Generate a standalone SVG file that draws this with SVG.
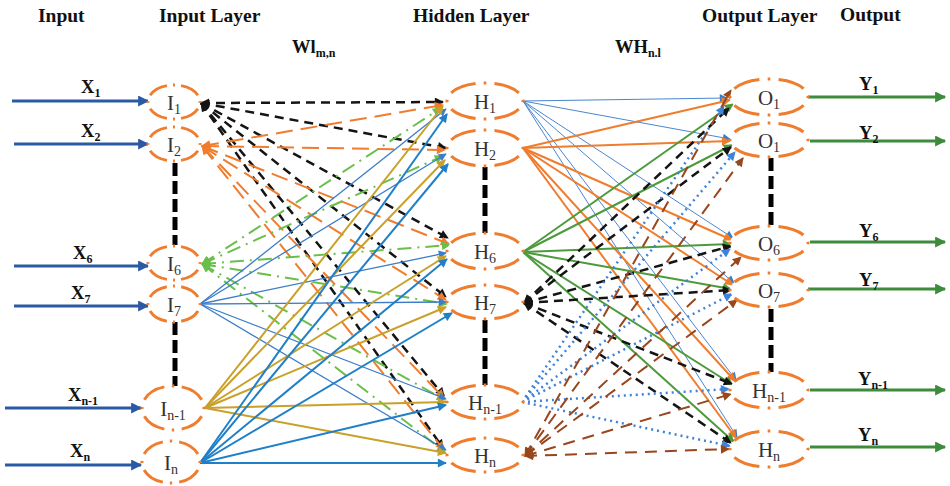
<svg xmlns="http://www.w3.org/2000/svg" width="950" height="486" viewBox="0 0 950 486">
<defs>
<style>
.hdr{font-family:"Liberation Serif","Times New Roman",serif;font-weight:bold;font-size:19.5px;fill:#111}
.lbl{font-family:"Liberation Serif","Times New Roman",serif;font-weight:bold;font-size:18.5px;fill:#111}
.nt{font-family:"Liberation Serif","Times New Roman",serif;font-size:21px;fill:#333;text-anchor:middle}
.sub{font-size:12px}
.nsub{font-size:14px}
.node{fill:#fff;stroke:#ef7d2d;stroke-width:3;stroke-dasharray:14.5 4.5 1.5 4.5;stroke-dashoffset:19.75}
.vd{stroke:#000;stroke-width:5;stroke-dasharray:13 5;fill:none}
.inarr{stroke:#2b5aa5;stroke-width:3;marker-end:url(#aIn)}
.outarr{stroke:#3c8c3c;stroke-width:3;marker-end:url(#aOut)}
.bk{stroke:#141414;stroke-width:2.5;stroke-dasharray:9 6;marker-start:url(#aBk);marker-end:url(#aBk)}
.or{stroke:#ef7d2d;stroke-width:2;stroke-dasharray:17 8;marker-start:url(#aOr);marker-end:url(#aOr)}
.gd{stroke:#6abf4b;stroke-width:2;stroke-dasharray:14 6 2 6;marker-start:url(#aGr);marker-end:url(#aGr)}
.bt{stroke:#3b7dc8;stroke-width:1.3;marker-end:url(#aBt)}
.gl{stroke:#c8a02a;stroke-width:2;marker-end:url(#aGl)}
.bl{stroke:#1f7fc8;stroke-width:2;marker-end:url(#aBl)}
.ob{stroke:#4a86d0;stroke-width:1;marker-end:url(#aBt)}
.os{stroke:#ef7d2d;stroke-width:2;marker-end:url(#aOr)}
.gs{stroke:#4c9a3c;stroke-width:2;marker-end:url(#aGs)}
.bd{stroke:#3f82d8;stroke-width:2.5;stroke-dasharray:2 4;marker-end:url(#aBd)}
.br{stroke:#98461d;stroke-width:2;stroke-dasharray:12 8;marker-start:url(#aBr);marker-end:url(#aBr)}
</style>
<marker id="aIn" viewBox="0 0 10 10" refX="9" refY="5" markerWidth="12" markerHeight="11" markerUnits="userSpaceOnUse" orient="auto-start-reverse"><path d="M0,0 L10,5 L0,10 z" fill="#2b5aa5"/></marker>
<marker id="aOut" viewBox="0 0 10 10" refX="9" refY="5" markerWidth="12" markerHeight="11" markerUnits="userSpaceOnUse" orient="auto-start-reverse"><path d="M0,0 L10,5 L0,10 z" fill="#3c8c3c"/></marker>
<marker id="aBk" viewBox="0 0 10 10" refX="9" refY="5" markerWidth="10" markerHeight="9" markerUnits="userSpaceOnUse" orient="auto-start-reverse"><path d="M0,0 L10,5 L0,10 z" fill="#141414"/></marker>
<marker id="aOr" viewBox="0 0 10 10" refX="9" refY="5" markerWidth="10" markerHeight="9" markerUnits="userSpaceOnUse" orient="auto-start-reverse"><path d="M0,0 L10,5 L0,10 z" fill="#ef7d2d"/></marker>
<marker id="aGr" viewBox="0 0 10 10" refX="9" refY="5" markerWidth="10" markerHeight="9" markerUnits="userSpaceOnUse" orient="auto-start-reverse"><path d="M0,0 L10,5 L0,10 z" fill="#6abf4b"/></marker>
<marker id="aBt" viewBox="0 0 10 10" refX="9" refY="5" markerWidth="9" markerHeight="8" markerUnits="userSpaceOnUse" orient="auto-start-reverse"><path d="M0,0 L10,5 L0,10 z" fill="#3b7dc8"/></marker>
<marker id="aGl" viewBox="0 0 10 10" refX="9" refY="5" markerWidth="10" markerHeight="9" markerUnits="userSpaceOnUse" orient="auto-start-reverse"><path d="M0,0 L10,5 L0,10 z" fill="#c8a02a"/></marker>
<marker id="aBl" viewBox="0 0 10 10" refX="9" refY="5" markerWidth="10" markerHeight="9" markerUnits="userSpaceOnUse" orient="auto-start-reverse"><path d="M0,0 L10,5 L0,10 z" fill="#1f7fc8"/></marker>
<marker id="aGs" viewBox="0 0 10 10" refX="9" refY="5" markerWidth="10" markerHeight="9" markerUnits="userSpaceOnUse" orient="auto-start-reverse"><path d="M0,0 L10,5 L0,10 z" fill="#4c9a3c"/></marker>
<marker id="aBd" viewBox="0 0 10 10" refX="9" refY="5" markerWidth="10" markerHeight="9" markerUnits="userSpaceOnUse" orient="auto-start-reverse"><path d="M0,0 L10,5 L0,10 z" fill="#3f82d8"/></marker>
<marker id="aBr" viewBox="0 0 10 10" refX="9" refY="5" markerWidth="10" markerHeight="9" markerUnits="userSpaceOnUse" orient="auto-start-reverse"><path d="M0,0 L10,5 L0,10 z" fill="#98461d"/></marker>
</defs>
<rect width="950" height="486" fill="#fff"/>

<g id="headers">
<text class="hdr" x="38" y="22">Input</text>
<text class="hdr" x="159" y="22">Input Layer</text>
<text class="hdr" x="413" y="22">Hidden Layer</text>
<text class="hdr" x="702" y="22">Output Layer</text>
<text class="hdr" x="840" y="21">Output</text>
<text class="lbl" x="292" y="53">Wl<tspan class="sub" dy="4">m,n</tspan></text>
<text class="lbl" x="615" y="53">WH<tspan class="sub" dy="4">n.l</tspan></text>
</g>

<g id="connectors">
<line class="bk" x1="201" y1="103" x2="443" y2="102"/>
<line class="bk" x1="201" y1="103" x2="446" y2="148"/>
<line class="bk" x1="201" y1="103" x2="448" y2="238"/>
<line class="bk" x1="201" y1="103" x2="446" y2="297"/>
<line class="bk" x1="201" y1="103" x2="444" y2="396"/>
<line class="bk" x1="201" y1="103" x2="443" y2="448"/>
<line class="or" x1="202" y1="146" x2="443" y2="105"/>
<line class="or" x1="202" y1="146" x2="445" y2="150"/>
<line class="or" x1="202" y1="146" x2="449" y2="244"/>
<line class="or" x1="202" y1="146" x2="446" y2="300"/>
<line class="or" x1="202" y1="146" x2="444" y2="398"/>
<line class="or" x1="202" y1="146" x2="444" y2="450"/>
<line class="gd" x1="202" y1="264" x2="441" y2="108"/>
<line class="gd" x1="202" y1="264" x2="443" y2="156"/>
<line class="gd" x1="202" y1="264" x2="450" y2="245"/>
<line class="gd" x1="202" y1="264" x2="447" y2="304"/>
<line class="gd" x1="202" y1="264" x2="445" y2="400"/>
<line class="gd" x1="202" y1="264" x2="445" y2="452"/>
<line class="bt" x1="200" y1="304" x2="446" y2="109"/>
<line class="bt" x1="200" y1="304" x2="446" y2="154"/>
<line class="bt" x1="200" y1="304" x2="446" y2="253"/>
<line class="bt" x1="200" y1="304" x2="446" y2="302"/>
<line class="bt" x1="200" y1="304" x2="446" y2="399"/>
<line class="bt" x1="200" y1="304" x2="446" y2="450"/>
<line class="gl" x1="205" y1="408" x2="443" y2="106"/>
<line class="gl" x1="205" y1="408" x2="445" y2="160"/>
<line class="gl" x1="205" y1="408" x2="446" y2="256"/>
<line class="gl" x1="205" y1="408" x2="446" y2="307"/>
<line class="gl" x1="205" y1="408" x2="446" y2="402"/>
<line class="gl" x1="205" y1="408" x2="446" y2="453"/>
<line class="bl" x1="200" y1="463" x2="447" y2="114"/>
<line class="bl" x1="200" y1="463" x2="448" y2="164"/>
<line class="bl" x1="200" y1="463" x2="447" y2="259"/>
<line class="bl" x1="200" y1="463" x2="452" y2="313"/>
<line class="bl" x1="200" y1="463" x2="446" y2="405"/>
<line class="bl" x1="200" y1="463" x2="446" y2="463"/>
<line class="ob" x1="523" y1="101" x2="727" y2="98"/>
<line class="ob" x1="523" y1="101" x2="730" y2="139"/>
<line class="ob" x1="523" y1="101" x2="733" y2="238"/>
<line class="ob" x1="523" y1="101" x2="734" y2="283"/>
<line class="ob" x1="523" y1="101" x2="736" y2="380"/>
<line class="ob" x1="523" y1="101" x2="737" y2="437"/>
<line class="os" x1="523" y1="148" x2="730" y2="100"/>
<line class="os" x1="523" y1="148" x2="730" y2="141"/>
<line class="os" x1="523" y1="148" x2="732" y2="240"/>
<line class="os" x1="523" y1="148" x2="733" y2="285"/>
<line class="os" x1="523" y1="148" x2="735" y2="381"/>
<line class="os" x1="523" y1="148" x2="736" y2="438"/>
<line class="gs" x1="523" y1="252" x2="733" y2="104"/>
<line class="gs" x1="523" y1="252" x2="732" y2="145"/>
<line class="gs" x1="523" y1="252" x2="731" y2="244"/>
<line class="gs" x1="523" y1="252" x2="731" y2="289"/>
<line class="gs" x1="523" y1="252" x2="733" y2="385"/>
<line class="gs" x1="523" y1="252" x2="734" y2="442"/>
<line class="bk" x1="524" y1="303" x2="729" y2="108"/>
<line class="bk" x1="524" y1="303" x2="731" y2="147"/>
<line class="bk" x1="524" y1="303" x2="731" y2="246"/>
<line class="bk" x1="524" y1="303" x2="731" y2="290"/>
<line class="bk" x1="524" y1="303" x2="732" y2="384"/>
<line class="bk" x1="524" y1="303" x2="731" y2="443"/>
<line class="bd" x1="522" y1="402" x2="724" y2="106"/>
<line class="bd" x1="522" y1="402" x2="735" y2="152"/>
<line class="bd" x1="522" y1="402" x2="730" y2="249"/>
<line class="bd" x1="522" y1="402" x2="732" y2="294"/>
<line class="bd" x1="522" y1="402" x2="729" y2="389"/>
<line class="bd" x1="522" y1="402" x2="730" y2="446"/>
<line class="br" x1="525" y1="456" x2="731" y2="90"/>
<line class="br" x1="525" y1="456" x2="743" y2="158"/>
<line class="br" x1="525" y1="456" x2="741" y2="257"/>
<line class="br" x1="525" y1="456" x2="737" y2="300"/>
<line class="br" x1="525" y1="456" x2="731" y2="394"/>
<line class="br" x1="525" y1="456" x2="729" y2="449"/>
<line class="inarr" x1="12" y1="101" x2="148" y2="101"/>
<line class="inarr" x1="14" y1="144" x2="148" y2="144"/>
<line class="inarr" x1="14" y1="266" x2="148" y2="266"/>
<line class="inarr" x1="14" y1="306" x2="148" y2="306"/>
<line class="inarr" x1="5" y1="408" x2="141" y2="408"/>
<line class="inarr" x1="5" y1="465" x2="141" y2="465"/>
<line class="outarr" x1="808" y1="97" x2="945" y2="97"/>
<line class="outarr" x1="810" y1="141" x2="945" y2="141"/>
<line class="outarr" x1="810" y1="242" x2="945" y2="242"/>
<line class="outarr" x1="808" y1="289" x2="945" y2="289"/>
<line class="outarr" x1="810" y1="390" x2="945" y2="390"/>
<line class="outarr" x1="810" y1="447" x2="945" y2="447"/>
<line class="vd" x1="175" y1="163" x2="175" y2="245"/>
<line class="vd" x1="175" y1="322" x2="175" y2="386"/>
<line class="vd" x1="485" y1="167" x2="485" y2="233"/>
<line class="vd" x1="485" y1="320" x2="485" y2="386"/>
<line class="vd" x1="771" y1="158" x2="771" y2="225"/>
<line class="vd" x1="771" y1="309" x2="771" y2="372"/>
</g>

<g id="input-labels">
<text class="lbl" x="81" y="93">X<tspan class="sub" dy="4">1</tspan></text>
<text class="lbl" x="81" y="137">X<tspan class="sub" dy="4">2</tspan></text>
<text class="lbl" x="73" y="259">X<tspan class="sub" dy="4">6</tspan></text>
<text class="lbl" x="71" y="299">X<tspan class="sub" dy="4">7</tspan></text>
<text class="lbl" x="68" y="401">X<tspan class="sub" dy="4">n-1</tspan></text>
<text class="lbl" x="70" y="457">X<tspan class="sub" dy="4">n</tspan></text>
</g>
<g id="output-labels">
<text class="lbl" x="859" y="90">Y<tspan class="sub" dy="4">1</tspan></text>
<text class="lbl" x="859" y="139">Y<tspan class="sub" dy="4">2</tspan></text>
<text class="lbl" x="859" y="237">Y<tspan class="sub" dy="4">6</tspan></text>
<text class="lbl" x="859" y="286">Y<tspan class="sub" dy="4">7</tspan></text>
<text class="lbl" x="858" y="385">Y<tspan class="sub" dy="4">n-1</tspan></text>
<text class="lbl" x="858" y="441">Y<tspan class="sub" dy="4">n</tspan></text>
</g>

<g id="I1"><ellipse class="node" pathLength="100" cx="174" cy="102" rx="26" ry="17"/><text class="nt" x="174" y="110">I<tspan class="nsub" dy="4">1</tspan></text></g>
<g id="I2"><ellipse class="node" pathLength="100" cx="174" cy="144" rx="26" ry="17"/><text class="nt" x="174" y="152">I<tspan class="nsub" dy="4">2</tspan></text></g>
<g id="I6"><ellipse class="node" pathLength="100" cx="174" cy="263" rx="26" ry="17"/><text class="nt" x="174" y="271">I<tspan class="nsub" dy="4">6</tspan></text></g>
<g id="I7"><ellipse class="node" pathLength="100" cx="174" cy="304" rx="26" ry="18"/><text class="nt" x="174" y="312">I<tspan class="nsub" dy="4">7</tspan></text></g>
<g id="In-1"><ellipse class="node" pathLength="100" cx="173" cy="408" rx="31" ry="22"/><text class="nt" x="173" y="416">I<tspan class="nsub" dy="4">n-1</tspan></text></g>
<g id="In"><ellipse class="node" pathLength="100" cx="171" cy="462" rx="29" ry="21"/><text class="nt" x="171" y="470">I<tspan class="nsub" dy="4">n</tspan></text></g>

<g id="H1"><ellipse class="node" pathLength="100" cx="485" cy="101" rx="38" ry="18"/><text class="nt" x="485" y="109">H<tspan class="nsub" dy="4">1</tspan></text></g>
<g id="H2"><ellipse class="node" pathLength="100" cx="485" cy="148" rx="38" ry="18"/><text class="nt" x="485" y="156">H<tspan class="nsub" dy="4">2</tspan></text></g>
<g id="H6"><ellipse class="node" pathLength="100" cx="485" cy="251" rx="38" ry="18"/><text class="nt" x="485" y="259">H<tspan class="nsub" dy="4">6</tspan></text></g>
<g id="H7"><ellipse class="node" pathLength="100" cx="485" cy="302" rx="38" ry="17"/><text class="nt" x="485" y="310">H<tspan class="nsub" dy="4">7</tspan></text></g>
<g id="Hn-1"><ellipse class="node" pathLength="100" cx="485" cy="402" rx="38" ry="17"/><text class="nt" x="485" y="410">H<tspan class="nsub" dy="4">n-1</tspan></text></g>
<g id="Hn"><ellipse class="node" pathLength="100" cx="485" cy="455" rx="38" ry="17"/><text class="nt" x="485" y="463">H<tspan class="nsub" dy="4">n</tspan></text></g>

<g id="O1"><ellipse class="node" pathLength="100" cx="769" cy="97" rx="39" ry="18"/><text class="nt" x="769" y="105">O<tspan class="nsub" dy="4">1</tspan></text></g>
<g id="O1b"><ellipse class="node" pathLength="100" cx="769" cy="140" rx="39" ry="17"/><text class="nt" x="769" y="148">O<tspan class="nsub" dy="4">1</tspan></text></g>
<g id="O6"><ellipse class="node" pathLength="100" cx="769" cy="243" rx="39" ry="17"/><text class="nt" x="769" y="251">O<tspan class="nsub" dy="4">6</tspan></text></g>
<g id="O7"><ellipse class="node" pathLength="100" cx="769" cy="290" rx="39" ry="17"/><text class="nt" x="769" y="298">O<tspan class="nsub" dy="4">7</tspan></text></g>
<g id="On-1"><ellipse class="node" pathLength="100" cx="769" cy="390" rx="39" ry="18"/><text class="nt" x="769" y="398">H<tspan class="nsub" dy="4">n-1</tspan></text></g>
<g id="On"><ellipse class="node" pathLength="100" cx="769" cy="449" rx="39" ry="18"/><text class="nt" x="769" y="457">H<tspan class="nsub" dy="4">n</tspan></text></g>
</svg>
